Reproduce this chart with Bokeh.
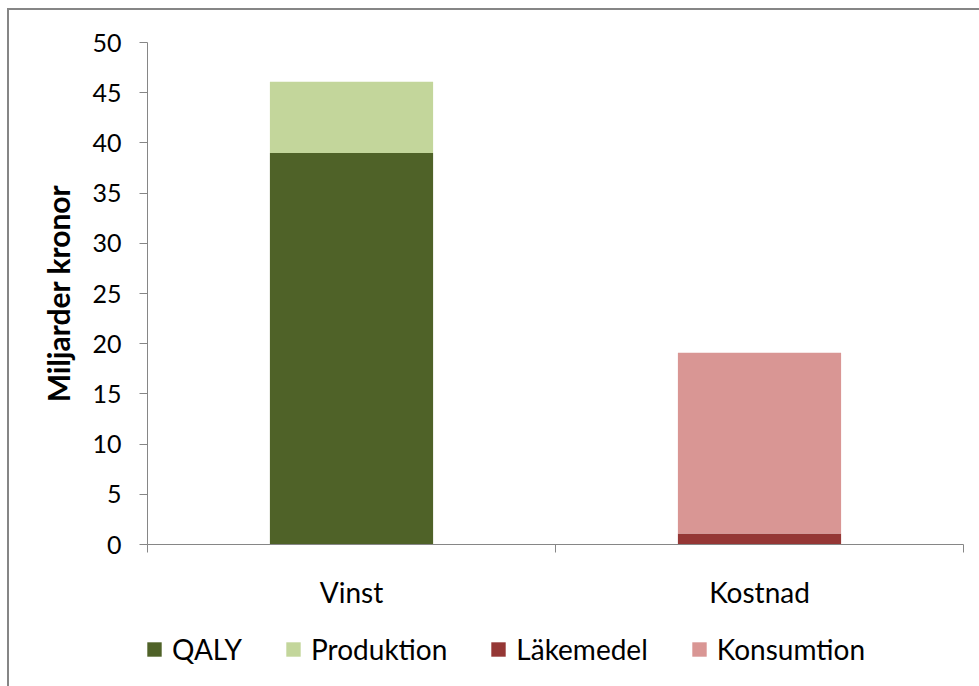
from bokeh.plotting import figure
from bokeh.layouts import column
from bokeh.models import FixedTicker, Range1d, Legend, LegendItem, ColumnDataSource
from bokeh.embed import file_html
from bokeh.resources import INLINE

categories = ["Vinst", "Kostnad"]
series = ["QALY", "Produktion", "Läkemedel", "Konsumtion"]
qaly = [39.0, 0.0]
produktion = [7.1, 0.0]
lakemedel = [0.0, 1.1]
konsumtion = [0.0, 18.0]
colors = ["#4F6228", "#C3D69B", "#953735", "#D99694"]
y_ticks = [0, 5, 10, 15, 20, 25, 30, 35, 40, 45, 50]

FONT = "Lato"
AXIS_COLOR = "#868686"

xpos = [i + 0.5 for i in range(len(categories))]
src = ColumnDataSource(dict(x=xpos, QALY=qaly, Produktion=produktion,
                            Läkemedel=lakemedel, Konsumtion=konsumtion))

p = figure(frame_width=816, frame_height=502, output_backend="svg", toolbar_location=None,
           x_range=Range1d(0, len(categories)), y_range=Range1d(0, 50),
           min_border_left=138, min_border_top=32, min_border_right=16,
           min_border_bottom=80)
p.outline_line_color = None
p.grid.grid_line_color = None
p.background_fill_color = "white"
p.border_fill_color = "white"

renderers = p.vbar_stack(series, x="x", width=0.4, source=src, color=colors,
                         line_color=None)

# y axis
yax = p.yaxis[0]
yax.ticker = FixedTicker(ticks=y_ticks)
yax.axis_line_color = AXIS_COLOR
yax.major_tick_line_color = AXIS_COLOR
yax.major_tick_in = 0
yax.major_tick_out = 8
yax.minor_tick_line_color = None
yax.major_label_text_font = FONT
yax.major_label_text_font_size = "25px"
yax.major_label_text_color = "#000000"
yax.major_label_standoff = 18
yax.axis_label = "Miljarder kronor"
yax.axis_label_text_font = FONT
yax.axis_label_text_font_size = "30px"
yax.axis_label_text_font_style = "bold"
yax.axis_label_text_color = "#000000"
yax.axis_label_standoff = 13

# x axis: labels at category centres, ticks at boundaries
xax = p.xaxis[0]
xax.ticker = FixedTicker(ticks=xpos, minor_ticks=list(range(len(categories) + 1)))
xax.major_label_overrides = {xpos[i]: c for i, c in enumerate(categories)}
xax.axis_line_color = AXIS_COLOR
xax.major_tick_line_color = None
xax.major_tick_in = 0
xax.major_tick_out = 0
xax.minor_tick_line_color = AXIS_COLOR
xax.minor_tick_in = 0
xax.minor_tick_out = 8
xax.major_label_text_font = FONT
xax.major_label_text_font_size = "28px"
xax.major_label_text_color = "#000000"
xax.major_label_standoff = 22

# legend in its own strip below the chart (frame aligned with the chart frame)
lg = figure(width=970, height=62, output_backend="svg", toolbar_location=None,
            x_range=Range1d(0, 1), y_range=Range1d(0, 1),
            x_axis_location=None, y_axis_location=None,
            min_border_left=0, min_border_right=0, min_border_top=0, min_border_bottom=0)
lg.outline_line_color = None
lg.grid.grid_line_color = None
lg.border_fill_color = "white"
lg_src = ColumnDataSource(dict(x=xpos, QALY=qaly, Produktion=produktion,
                               Läkemedel=lakemedel, Konsumtion=konsumtion))
swatches = []
for s, c in zip(series, colors):
    r = lg.vbar(x="x", top=s, width=0.4, source=lg_src, color=c, line_color=None)
    r.visible = False
    swatches.append(r)

legend = Legend(items=[LegendItem(label=s, renderers=[r]) for s, r in zip(series, swatches)],
                orientation="horizontal", location=(-2, 20))
legend.label_text_font = FONT
legend.label_text_font_size = "28px"
legend.label_text_color = "#000000"
legend.glyph_width = 18
legend.glyph_height = 18
legend.label_standoff = 9
legend.spacing = 42
legend.border_line_color = None
legend.background_fill_alpha = 0
legend.inactive_fill_alpha = 0
legend.click_policy = "none"
legend.padding = 0
legend.margin = 0
lg.add_layout(legend, "center")

layout = column(p, lg, spacing=0,
                styles={"border-top": "2px solid #868686", "border-left": "2px solid #868686",
                        "margin-left": "7px", "margin-top": "8px"})

open("out.html", "w").write(file_html(layout, INLINE))
